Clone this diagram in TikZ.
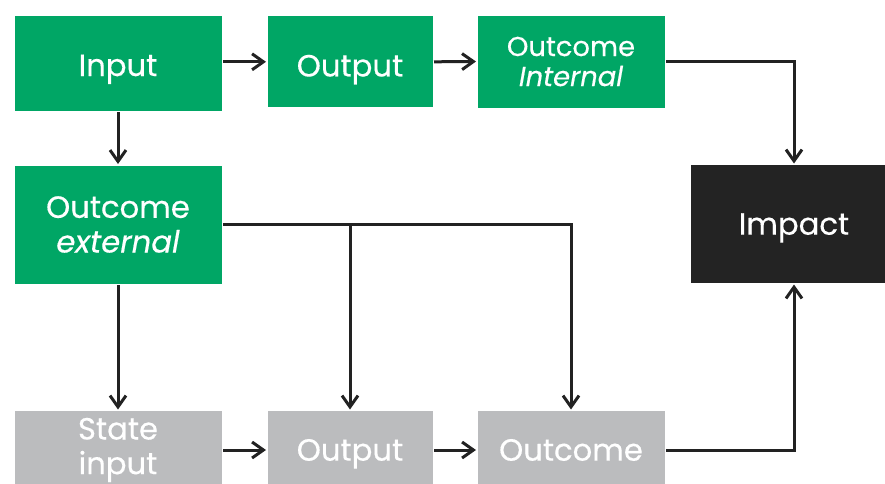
\documentclass[tikz,border=0pt]{standalone}
\usepackage{fontspec}
\setmainfont{Poppins}[BoldFont=*, BoldFeatures={FakeBold=0.4},
  BoldItalicFont=*/I, BoldItalicFeatures={FakeBold=0.4}]
\usetikzlibrary{arrows.meta}

\definecolor{boxgreen}{RGB}{0,166,101}
\definecolor{boxgrey}{RGB}{187,188,190}
\definecolor{boxblack}{RGB}{35,35,35}
\definecolor{linedark}{RGB}{34,34,34}

\tikzset{every picture/.style={line width=2.25pt}}
\tikzset{
  box/.style={draw=none, inner sep=0pt, text=white, align=center,
    font=\fontsize{23}{26}\selectfont\bfseries},
  oneline/.style={text depth=0pt, text height=16pt},
  greenbox/.style={box, fill=boxgreen},
  greybox/.style={box, fill=boxgrey},
  blackbox/.style={box, fill=boxblack},
  flow/.style={draw=linedark, -{Straight Barb[length=8.5pt,width=12pt,line width=2.25pt]}},
}

\begin{document}
\begin{tikzpicture}[x=0.75pt,y=0.75pt,yscale=-1,xscale=1]
                  \useasboundingbox (0,0) rectangle (885,483);
                  \clip (0,0) rectangle (885,483);

                  % Boxes
                  \node [greenbox, oneline, text height=19.5pt, minimum width=207*0.75pt, minimum height=95*0.75pt] (input) at (118,63) {Input};
                  \node [greenbox, oneline, text height=22pt, minimum width=165*0.75pt, minimum height=91*0.75pt] (outputA) at (350,61.8) {Output};
                  \node [greenbox, minimum width=187*0.75pt, minimum height=92*0.75pt, font=\fontsize{20.5}{22.5}\selectfont\bfseries] (internal) at (571,61.5) {Outcome\\\itshape Internal};
                  \node [greenbox, minimum width=207*0.75pt, minimum height=118*0.75pt] (external) at (118,224.5) {Outcome\\\itshape external};
                  \node [blackbox, oneline, minimum width=206*0.75pt, minimum height=118*0.75pt] (impact) at (794,224) {Impact};
                  \node [greybox, minimum width=207*0.75pt, minimum height=78*0.75pt] (state) at (118,450) {State\\input};
                  \node [greybox, oneline, minimum width=165*0.75pt, minimum height=78*0.75pt] (outputB) at (350,450) {Output};
                  \node [greybox, oneline, minimum width=187*0.75pt, minimum height=78*0.75pt] (outcomeB) at (571,450) {Outcome};

                  % Straight Lines
                  \draw [flow] (input.east |- outputA.west) -- (outputA.west);
                  \draw [flow] (outputA.east) -- (internal.west);
                  \draw [flow] (internal.east) -| (impact.north);
                  \draw [flow] (input.south) -- (external.north);
                  \draw [flow] (external.south) -- (state.north);
                  \draw [flow] (external.east) -| (outcomeB.north);
                  \draw [flow] (external.east -| outputB.north) -- (outputB.north);
                  \draw [flow] (state.east) -- (outputB.west);
                  \draw [flow] (outputB.east) -- (outcomeB.west);
                  \draw [flow] (outcomeB.east) -| (impact.south);

              \end{tikzpicture}
\end{document}
